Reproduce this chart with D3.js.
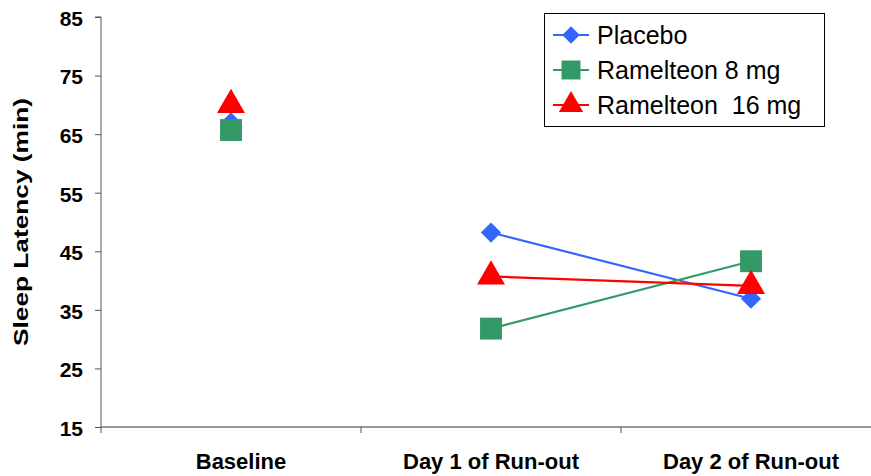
<!DOCTYPE html>
<html>
<head>
<meta charset="utf-8">
<script src="https://cdn.jsdelivr.net/npm/d3@7"></script>
<style>
  body { margin: 0; background: #fff; }
  svg { display: block; font-family: "Liberation Sans", Arial, sans-serif; }
  .ytick text { font-size: 21px; font-weight: bold; }
</style>
</head>
<body>
<svg id="chart" width="871" height="476"></svg>
<script>
const categories = ["Baseline", "Day 1 of Run-out", "Day 2 of Run-out"];
const yTicks = [15, 25, 35, 45, 55, 65, 75, 85];
const seriesNames = ["Placebo", "Ramelteon 8 mg", "Ramelteon  16 mg"];
const placebo = [67.0, 48.2, 36.9];
const ramelteon8 = [65.7, 31.8, 43.3];
const ramelteon16 = [70.0, 40.7, 39.1];

const seriesValues = [placebo, ramelteon8, ramelteon16];
const colors = ["#3366FF", "#339966", "#FF0000"];
const symbols = [d3.symbolDiamond2, d3.symbolSquare, d3.symbolTriangle];
const symSizes = [260, 480, 340];

const svg = d3.select("#chart");
const margin = { left: 101 };
const W = 871;

const x = d3.scaleBand().domain(categories).range([margin.left, margin.left + 260 * 3]).paddingInner(0).paddingOuter(0);
const y = d3.scaleLinear().domain([15, 85]).range([427, 17]);

// Y axis
const yAxis = svg.append("g").attr("class", "ytick").attr("transform", `translate(${margin.left},0)`)
  .call(d3.axisLeft(y).tickValues(yTicks).tickSize(6).tickPadding(12).tickFormat(d3.format("d")));
yAxis.attr("font-size", null).attr("font-family", null);
yAxis.select(".domain").attr("stroke", "#555").attr("d", `M-6,${y(85)}H0V${y(15)}`);
yAxis.selectAll(".tick line").attr("stroke", "#555");
yAxis.selectAll(".tick text").attr("fill", "#000").attr("dy", "0.4em");

// X axis
const xAxisG = svg.append("g").attr("transform", `translate(0,${y(15)})`);
xAxisG.append("line").attr("x1", margin.left).attr("x2", W).attr("y1", 0).attr("y2", 0).attr("stroke", "#333");
const bounds = [margin.left].concat(categories.map(c => x(c) + x.bandwidth()).slice(0, 2));
xAxisG.selectAll("line.tk").data(bounds).join("line").attr("class", "tk")
  .attr("x1", d => d).attr("x2", d => d).attr("y1", 0).attr("y2", 6).attr("stroke", "#555");
xAxisG.selectAll("text").data(categories).join("text")
  .attr("x", (d, i) => x(d) + x.bandwidth() / 2 + (i === 0 ? 10 : 0))
  .attr("y", 42)
  .attr("text-anchor", "middle")
  .style("font-size", "22px").style("font-weight", "bold").attr("fill", "#000")
  .text(d => d);

// Y title
svg.append("text")
  .attr("transform", `translate(28,${(y(85) + y(15)) / 2}) rotate(-90)`)
  .attr("text-anchor", "middle")
  .style("font-size", "21px").style("font-weight", "bold")
  .attr("textLength", 248).attr("lengthAdjust", "spacingAndGlyphs")
  .text("Sleep Latency (min)");

// Lines and markers
const cx = i => x(categories[i]) + x.bandwidth() / 2;
const line = d3.line().defined((d, i) => i > 0).x((d, i) => cx(i)).y(d => y(d));

seriesValues.forEach((vals, s) => {
  svg.append("path").datum(vals).attr("d", line)
    .attr("fill", "none").attr("stroke", colors[s]).attr("stroke-width", 2.2);
});
seriesValues.forEach((vals, s) => {
  svg.append("g").selectAll("path").data(vals).join("path")
    .attr("transform", (d, i) => `translate(${cx(i)},${y(d)})`)
    .attr("d", d3.symbol().type(symbols[s]).size(symSizes[s]))
    .attr("fill", colors[s]);
});

// Legend
const lg = svg.append("g");
lg.append("rect").attr("x", 544.5).attr("y", 13.5).attr("width", 280).attr("height", 113)
  .attr("fill", "#fff").attr("stroke", "#000").attr("stroke-width", 1);
seriesNames.forEach((name, s) => {
  const ry = 35 + s * 35;
  lg.append("line").attr("x1", 553).attr("x2", 589).attr("y1", ry).attr("y2", ry)
    .attr("stroke", colors[s]).attr("stroke-width", 2.2);
  lg.append("path").attr("transform", `translate(571,${ry})`)
    .attr("d", d3.symbol().type(symbols[s]).size(symSizes[s] * 0.75)).attr("fill", colors[s]);
  lg.append("text").attr("x", 597).attr("y", ry + 9).style("font-size", "25px")
    .attr("fill", "#000").style("white-space", "pre").text(name);
});
</script>
</body>
</html>
